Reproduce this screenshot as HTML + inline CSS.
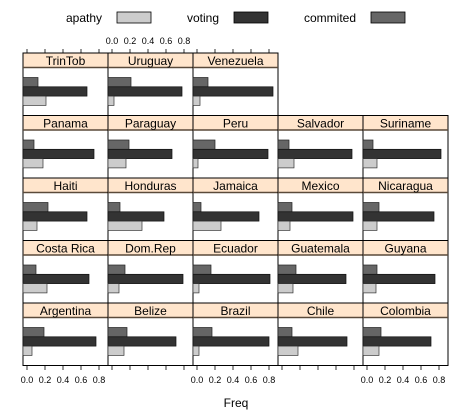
<!DOCTYPE html>
<html><head><meta charset="utf-8"><style>
html,body{margin:0;padding:0;background:#fff}
svg{display:block}
text{font-family:"Liberation Sans",sans-serif;fill:#000}
.s{fill:#ffe5cc;stroke:#000;stroke-width:1}
.p{fill:#fff;stroke:#000;stroke-width:1}
.c{fill:#666;stroke:#222;stroke-width:.7}
.v{fill:#333;stroke:#111;stroke-width:.7}
.a{fill:#ccc;stroke:#333;stroke-width:.7}
.t{font-size:12px;text-anchor:middle}
.k{font-size:9px;text-anchor:middle}
.b{stroke:#5a4a3a;stroke-width:1.6}
</style></head><body>
<svg width="471" height="417" viewBox="0 0 471 417" xmlns="http://www.w3.org/2000/svg">
<text x="66" y="22" font-size="12">apathy</text>
<rect x="117" y="12" width="34" height="11" fill="#ccc" stroke="#000" stroke-width=".8"/>
<text x="187" y="22" font-size="12">voting</text>
<rect x="234" y="12" width="34" height="11" fill="#333" stroke="#000" stroke-width=".8"/>
<text x="304" y="22" font-size="12">commited</text>
<rect x="371" y="12" width="34" height="11" fill="#666" stroke="#000" stroke-width=".8"/>

<g stroke="#000" stroke-width=".8">
<path d="M27 49v4M45 49v4M63 49v4M81 49v4M99 49v4M112 49v4M130 49v4M148 49v4M166 49v4M184 49v4M197 49v4M215 49v4M233 49v4M251 49v4M269 49v4"/>
<path d="M27 366v4M45 366v4M63 366v4M81 366v4M99 366v4M112 366v4M130 366v4M148 366v4M166 366v4M184 366v4M197 366v4M215 366v4M233 366v4M251 366v4M269 366v4M282 366v4M300 366v4M318 366v4M336 366v4M354 366v4M367 366v4M385 366v4M403 366v4M421 366v4M439 366v4"/>
</g>
<g class="k">
<text x="112" y="44">0.0</text><text x="130" y="44">0.2</text><text x="148" y="44">0.4</text><text x="166" y="44">0.6</text><text x="184" y="44">0.8</text>
<text x="27" y="383">0.0</text><text x="45" y="383">0.2</text><text x="63" y="383">0.4</text><text x="81" y="383">0.6</text><text x="99" y="383">0.8</text>
<text x="197" y="383">0.0</text><text x="215" y="383">0.2</text><text x="233" y="383">0.4</text><text x="251" y="383">0.6</text><text x="269" y="383">0.8</text>
<text x="367" y="383">0.0</text><text x="385" y="383">0.2</text><text x="403" y="383">0.4</text><text x="421" y="383">0.6</text><text x="439" y="383">0.8</text>
</g>
<text x="236" y="407" font-size="12" text-anchor="middle">Freq</text>

<g transform="translate(23,53)"><rect class="s" width="85" height="14.5"/><rect class="p" y="14.5" width="85" height="48"/><path class="b" d="M0 14.5h85"/><text class="t" x="42.5" y="11.8">TrinTob</text><rect class="c" y="24.5" width="15" height="9.3"/><rect class="v" y="33.8" width="64" height="9.3"/><rect class="a" y="43.1" width="23" height="9.3"/></g>
<g transform="translate(108,53)"><rect class="s" width="85" height="14.5"/><rect class="p" y="14.5" width="85" height="48"/><path class="b" d="M0 14.5h85"/><text class="t" x="42.5" y="11.8">Uruguay</text><rect class="c" y="24.5" width="23" height="9.3"/><rect class="v" y="33.8" width="74" height="9.3"/><rect class="a" y="43.1" width="6" height="9.3"/></g>
<g transform="translate(193,53)"><rect class="s" width="85" height="14.5"/><rect class="p" y="14.5" width="85" height="48"/><path class="b" d="M0 14.5h85"/><text class="t" x="42.5" y="11.8">Venezuela</text><rect class="c" y="24.5" width="15" height="9.3"/><rect class="v" y="33.8" width="80" height="9.3"/><rect class="a" y="43.1" width="7" height="9.3"/></g>

<g transform="translate(23,115.5)"><rect class="s" width="85" height="14.5"/><rect class="p" y="14.5" width="85" height="48"/><path class="b" d="M0 14.5h85"/><text class="t" x="42.5" y="11.8">Panama</text><rect class="c" y="24.5" width="11" height="9.3"/><rect class="v" y="33.8" width="71" height="9.3"/><rect class="a" y="43.1" width="20" height="9.3"/></g>
<g transform="translate(108,115.5)"><rect class="s" width="85" height="14.5"/><rect class="p" y="14.5" width="85" height="48"/><path class="b" d="M0 14.5h85"/><text class="t" x="42.5" y="11.8">Paraguay</text><rect class="c" y="24.5" width="21" height="9.3"/><rect class="v" y="33.8" width="64" height="9.3"/><rect class="a" y="43.1" width="18" height="9.3"/></g>
<g transform="translate(193,115.5)"><rect class="s" width="85" height="14.5"/><rect class="p" y="14.5" width="85" height="48"/><path class="b" d="M0 14.5h85"/><text class="t" x="42.5" y="11.8">Peru</text><rect class="c" y="24.5" width="22" height="9.3"/><rect class="v" y="33.8" width="75" height="9.3"/><rect class="a" y="43.1" width="5" height="9.3"/></g>
<g transform="translate(278,115.5)"><rect class="s" width="85" height="14.5"/><rect class="p" y="14.5" width="85" height="48"/><path class="b" d="M0 14.5h85"/><text class="t" x="42.5" y="11.8">Salvador</text><rect class="c" y="24.5" width="11" height="9.3"/><rect class="v" y="33.8" width="74" height="9.3"/><rect class="a" y="43.1" width="16" height="9.3"/></g>
<g transform="translate(363,115.5)"><rect class="s" width="85" height="14.5"/><rect class="p" y="14.5" width="85" height="48"/><path class="b" d="M0 14.5h85"/><text class="t" x="42.5" y="11.8">Suriname</text><rect class="c" y="24.5" width="10" height="9.3"/><rect class="v" y="33.8" width="78" height="9.3"/><rect class="a" y="43.1" width="14" height="9.3"/></g>

<g transform="translate(23,178)"><rect class="s" width="85" height="14.5"/><rect class="p" y="14.5" width="85" height="48"/><path class="b" d="M0 14.5h85"/><text class="t" x="42.5" y="11.8">Haiti</text><rect class="c" y="24.5" width="25" height="9.3"/><rect class="v" y="33.8" width="64" height="9.3"/><rect class="a" y="43.1" width="14" height="9.3"/></g>
<g transform="translate(108,178)"><rect class="s" width="85" height="14.5"/><rect class="p" y="14.5" width="85" height="48"/><path class="b" d="M0 14.5h85"/><text class="t" x="42.5" y="11.8">Honduras</text><rect class="c" y="24.5" width="12" height="9.3"/><rect class="v" y="33.8" width="56" height="9.3"/><rect class="a" y="43.1" width="34" height="9.3"/></g>
<g transform="translate(193,178)"><rect class="s" width="85" height="14.5"/><rect class="p" y="14.5" width="85" height="48"/><path class="b" d="M0 14.5h85"/><text class="t" x="42.5" y="11.8">Jamaica</text><rect class="c" y="24.5" width="8" height="9.3"/><rect class="v" y="33.8" width="66" height="9.3"/><rect class="a" y="43.1" width="28" height="9.3"/></g>
<g transform="translate(278,178)"><rect class="s" width="85" height="14.5"/><rect class="p" y="14.5" width="85" height="48"/><path class="b" d="M0 14.5h85"/><text class="t" x="42.5" y="11.8">Mexico</text><rect class="c" y="24.5" width="14" height="9.3"/><rect class="v" y="33.8" width="75" height="9.3"/><rect class="a" y="43.1" width="12" height="9.3"/></g>
<g transform="translate(363,178)"><rect class="s" width="85" height="14.5"/><rect class="p" y="14.5" width="85" height="48"/><path class="b" d="M0 14.5h85"/><text class="t" x="42.5" y="11.8">Nicaragua</text><rect class="c" y="24.5" width="16" height="9.3"/><rect class="v" y="33.8" width="71" height="9.3"/><rect class="a" y="43.1" width="14" height="9.3"/></g>

<g transform="translate(23,240.5)"><rect class="s" width="85" height="14.5"/><rect class="p" y="14.5" width="85" height="48"/><path class="b" d="M0 14.5h85"/><text class="t" x="42.5" y="11.8">Costa Rica</text><rect class="c" y="24.5" width="13" height="9.3"/><rect class="v" y="33.8" width="66" height="9.3"/><rect class="a" y="43.1" width="24" height="9.3"/></g>
<g transform="translate(108,240.5)"><rect class="s" width="85" height="14.5"/><rect class="p" y="14.5" width="85" height="48"/><path class="b" d="M0 14.5h85"/><text class="t" x="42.5" y="11.8">Dom.Rep</text><rect class="c" y="24.5" width="17" height="9.3"/><rect class="v" y="33.8" width="75" height="9.3"/><rect class="a" y="43.1" width="11" height="9.3"/></g>
<g transform="translate(193,240.5)"><rect class="s" width="85" height="14.5"/><rect class="p" y="14.5" width="85" height="48"/><path class="b" d="M0 14.5h85"/><text class="t" x="42.5" y="11.8">Ecuador</text><rect class="c" y="24.5" width="18" height="9.3"/><rect class="v" y="33.8" width="77" height="9.3"/><rect class="a" y="43.1" width="6" height="9.3"/></g>
<g transform="translate(278,240.5)"><rect class="s" width="85" height="14.5"/><rect class="p" y="14.5" width="85" height="48"/><path class="b" d="M0 14.5h85"/><text class="t" x="42.5" y="11.8">Guatemala</text><rect class="c" y="24.5" width="18" height="9.3"/><rect class="v" y="33.8" width="68" height="9.3"/><rect class="a" y="43.1" width="15" height="9.3"/></g>
<g transform="translate(363,240.5)"><rect class="s" width="85" height="14.5"/><rect class="p" y="14.5" width="85" height="48"/><path class="b" d="M0 14.5h85"/><text class="t" x="42.5" y="11.8">Guyana</text><rect class="c" y="24.5" width="14" height="9.3"/><rect class="v" y="33.8" width="72" height="9.3"/><rect class="a" y="43.1" width="13" height="9.3"/></g>

<g transform="translate(23,303)"><rect class="s" width="85" height="14.5"/><rect class="p" y="14.5" width="85" height="48"/><path class="b" d="M0 14.5h85"/><text class="t" x="42.5" y="11.8">Argentina</text><rect class="c" y="24.5" width="21" height="9.3"/><rect class="v" y="33.8" width="73" height="9.3"/><rect class="a" y="43.1" width="9" height="9.3"/></g>
<g transform="translate(108,303)"><rect class="s" width="85" height="14.5"/><rect class="p" y="14.5" width="85" height="48"/><path class="b" d="M0 14.5h85"/><text class="t" x="42.5" y="11.8">Belize</text><rect class="c" y="24.5" width="19" height="9.3"/><rect class="v" y="33.8" width="68" height="9.3"/><rect class="a" y="43.1" width="16" height="9.3"/></g>
<g transform="translate(193,303)"><rect class="s" width="85" height="14.5"/><rect class="p" y="14.5" width="85" height="48"/><path class="b" d="M0 14.5h85"/><text class="t" x="42.5" y="11.8">Brazil</text><rect class="c" y="24.5" width="19" height="9.3"/><rect class="v" y="33.8" width="76" height="9.3"/><rect class="a" y="43.1" width="6" height="9.3"/></g>
<g transform="translate(278,303)"><rect class="s" width="85" height="14.5"/><rect class="p" y="14.5" width="85" height="48"/><path class="b" d="M0 14.5h85"/><text class="t" x="42.5" y="11.8">Chile</text><rect class="c" y="24.5" width="14" height="9.3"/><rect class="v" y="33.8" width="69" height="9.3"/><rect class="a" y="43.1" width="20" height="9.3"/></g>
<g transform="translate(363,303)"><rect class="s" width="85" height="14.5"/><rect class="p" y="14.5" width="85" height="48"/><path class="b" d="M0 14.5h85"/><text class="t" x="42.5" y="11.8">Colombia</text><rect class="c" y="24.5" width="18" height="9.3"/><rect class="v" y="33.8" width="68" height="9.3"/><rect class="a" y="43.1" width="16" height="9.3"/></g>
</svg>
</body></html>
